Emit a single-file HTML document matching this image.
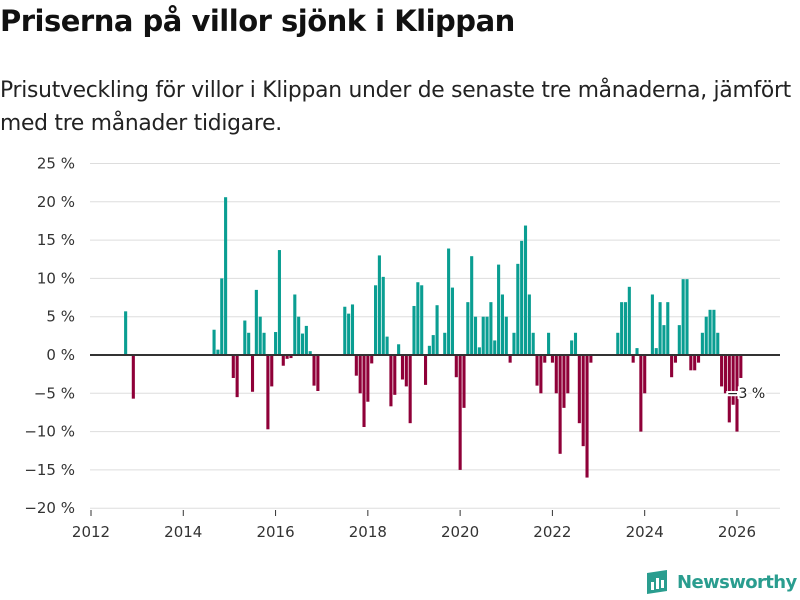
<!DOCTYPE html>
<html><head><meta charset="utf-8"><style>
body{margin:0;width:800px;height:600px;background:#fff;font-family:"Liberation Sans","DejaVu Sans",sans-serif;overflow:hidden}
#t{position:absolute;left:0;top:4px;font-size:29px;font-weight:bold;color:#111;font-family:"DejaVu Sans",sans-serif;letter-spacing:-0.5px}
#s{position:absolute;left:0;top:74px;width:810px;font-size:21.8px;line-height:33px;color:#222;font-family:"DejaVu Sans",sans-serif;letter-spacing:-0.25px;white-space:nowrap}
svg{position:absolute;left:0;top:0}
</style></head><body>
<div id="t">Priserna på villor sjönk i Klippan</div>
<div id="s">Prisutveckling för villor i Klippan under de senaste tre månaderna, jämfört<br>med tre månader tidigare.</div>
<svg id="c" width="800" height="600"></svg>
<script>
const months=[9,11,32,33,34,35,37,38,40,41,42,43,44,45,46,47,48,49,50,51,52,53,54,55,56,57,58,59,66,67,68,69,70,71,72,73,74,75,76,77,78,79,80,81,82,83,84,85,86,87,88,89,90,92,93,94,95,96,97,98,99,100,101,102,103,104,105,106,107,108,109,110,111,112,113,114,115,116,117,118,119,120,121,122,123,124,125,126,127,128,129,130,137,138,139,140,141,142,143,144,146,147,148,149,150,151,152,153,154,155,156,157,158,159,160,161,162,163,164,165,166,167,168,169];
const values=[5.7,-5.7,3.3,0.7,10,20.6,-3,-5.5,4.5,2.9,-4.8,8.5,5,2.9,-9.7,-4.1,3,13.7,-1.4,-0.5,-0.4,7.9,5,2.8,3.8,0.5,-4,-4.7,6.3,5.4,6.6,-2.7,-5,-9.4,-6.1,-1.1,9.1,13,10.2,2.4,-6.7,-5.2,1.4,-3.2,-4.1,-8.9,6.4,9.5,9.1,-3.9,1.2,2.6,6.5,2.9,13.9,8.8,-2.9,-15,-6.9,6.9,12.9,5,1,5,5,6.9,1.9,11.8,7.9,5,-1,2.9,11.9,14.9,16.9,7.9,2.9,-4,-5,-1,2.9,-1,-5,-12.9,-6.9,-5,1.9,2.9,-8.9,-11.9,-16,-1,2.9,6.9,6.9,8.9,-1,0.9,-10,-5,7.9,0.9,6.9,3.9,6.9,-2.9,-1,3.9,9.9,9.9,-2,-2,-1,2.9,5,5.9,5.9,2.9,-4.1,-5,-8.8,-6.5,-10,-3];
const yTicks=[25,20,15,10,5,0,-5,-10,-15,-20];
const xYears=[2012,2014,2016,2018,2020,2022,2024,2026];
const svg=document.getElementById('c');const NS='http://www.w3.org/2000/svg';
const X0=91,MW=46.14/12;
function x(m){return X0+m*MW;}
function y(v){return 355-v*7.66;}
function mk(tag,a,txt){const e=document.createElementNS(NS,tag);for(const k in a)e.setAttribute(k,a[k]);if(txt!==undefined)e.textContent=txt;svg.appendChild(e);return e;}
yTicks.forEach(v=>{
 const g=mk('line',{x1:90,x2:780,y1:y(v),y2:y(v),stroke:'#ddd','stroke-width':1});
 
 
 const t=mk('text',{x:75,y:y(v)+5,'text-anchor':'end','font-size':15,fill:'#333','font-family':'DejaVu Sans,sans-serif'},(v<0?'−'+(-v):v)+' %');
 
 
});
xYears.forEach(yr=>{
 const px=x((yr-2012)*12);
 const tk=mk('line',{x1:px,x2:px,y1:510,y2:516,stroke:'#333','stroke-width':1});
 
 
 const t=mk('text',{x:px,y:537,'text-anchor':'middle','font-size':15,fill:'#333','font-family':'DejaVu Sans,sans-serif'},yr);
 
 
});
months.forEach((m,i)=>{
 const v=values[i];const top=Math.min(y(v),y(0)),h=Math.abs(y(v)-y(0));
 const r=mk('rect',{x:x(m-0.5)+0.4,y:top,width:3.1,height:h,fill:v>=0?'#0a9e92':'#8f0038'});
 
 
});
const z=mk('line',{x1:90,x2:780,y1:y(0),y2:y(0),stroke:'#333','stroke-width':2});


const lv=values[values.length-1],lm=months[months.length-1];
const lb=mk('text',{x:x(lm)-14,y:y(lv)+20,'font-size':14,fill:'#222',stroke:'#fff','stroke-width':4,'paint-order':'stroke','font-family':'DejaVu Sans,sans-serif'},'−'+Math.round(-lv)+' %');


</script>
<div style="position:absolute;left:645px;top:569px;display:flex;align-items:center">
<svg width="24" height="26" style="position:static"><path d="M2 4 L22 1 L22 22 L2 25 Z" fill="#2a9d8f"/><rect x="6" y="13" width="3" height="8" fill="#fff"/><rect x="11" y="9" width="3" height="11" fill="#fff"/><rect x="16" y="11" width="3" height="8" fill="#fff"/></svg>
<span style="margin-left:8px;font-size:18px;font-weight:bold;color:#2a9d8f;font-family:'DejaVu Sans',sans-serif;letter-spacing:-0.6px">Newsworthy</span></div>
</body></html>
